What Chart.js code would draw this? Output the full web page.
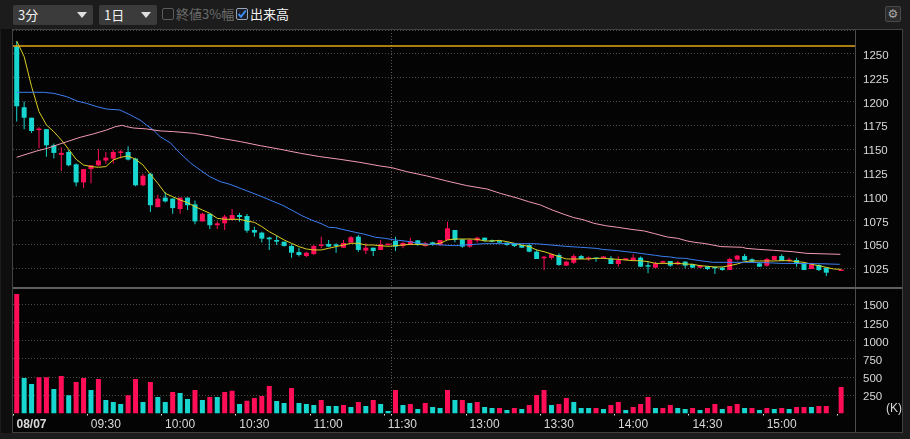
<!DOCTYPE html>
<html>
<head>
<meta charset="utf-8">
<script src="https://cdn.jsdelivr.net/npm/chart.js@4.4.1/dist/chart.umd.min.js"></script>
<style>
  html, body { margin: 0; padding: 0; }
  body { width: 910px; height: 439px; background: #1c1c1c; position: relative; overflow: hidden;
         font-family: "Noto Sans CJK JP", "Noto Sans", sans-serif; }
  .dd { position: absolute; top: 5px; height: 20px; background: #3b3b3b; border-radius: 2px;
        color: #f2f2f2; font-size: 13px; line-height: 20px; padding-left: 5px; box-sizing: border-box; }
  .dd i { position: absolute; right: 6px; top: 7px; border-left: 5px solid transparent;
          border-right: 5px solid transparent; border-top: 6px solid #e0e0e0; }
  .cb { position: absolute; top: 8px; width: 12px; height: 12px; box-sizing: border-box;
        border: 1px solid #5c5c5c; border-radius: 2px; }
  .lbl { position: absolute; top: 4px; font-size: 13px; line-height: 20px; }
  #strip { position: absolute; left: 1px; top: 29px; width: 11px; height: 404px; background: #0e0e0e; }
  #frame { position: absolute; left: 12px; top: 29px; width: 891px; height: 404px; box-sizing: border-box;
           border: 1px solid #414141; background: #040404; }
  canvas { position: absolute; left: 13px; }
  #pc { top: 30px; }
  #vc { top: 288px; }
  .ln { position: absolute; }
  #unit { position: absolute; left: 886px; top: 401px; color: #d8d8d8; font-size: 12px;
          font-family: "Liberation Sans", sans-serif; }
  #gear { position: absolute; left: 885px; top: 6px; width: 16px; height: 16px; box-sizing: border-box;
          background: #2b2b2b; border: 1px solid #4a4a4a; border-radius: 2px; color: #a8a8a8;
          font: 12px/14px "DejaVu Sans", sans-serif; text-align: center; }
</style>
</head>
<body>
<div class="dd" style="left:13px;width:80px;">3分<i></i></div>
<div class="dd" style="left:99px;width:58px;">1日<i></i></div>
<div class="cb" style="left:162px;"></div>
<div class="lbl" style="left:176px;color:#6c6c6c;">終値3%幅</div>
<div class="cb" style="left:236px;border-color:#9aa6b8;background:#1a1f2a;">
  <svg width="10" height="10" style="position:absolute;left:0;top:0"><polyline points="1.5,5 4,7.8 8.8,1.5" fill="none" stroke="#3d8cf5" stroke-width="2"/></svg>
</div>
<div class="lbl" style="left:250px;color:#f2f2f2;">出来高</div>
<div id="gear">⚙</div>

<div id="strip"></div>
<div id="frame"></div>
<canvas id="pc" width="889" height="258"></canvas>
<canvas id="vc" width="889" height="144"></canvas>
<div class="ln" style="left:855px;top:30px;width:1px;height:402px;background:#4c4c4c;"></div>
<div class="ln" style="left:13px;top:287px;width:889px;height:2px;background:#5e5e5e;"></div>
<div id="unit">(K)</div>

<script>
// 3-minute bars, 08/07: 09:00-11:30 (51 bars) and 12:30-15:30 (61 bars); 15:27 has no trade
const prevLine = 1258.4;

const opens = [
  1258, 1194, 1183, 1170, 1171, 1154, 1144, 1147, 1134, 1115,
  1129, 1133, 1138, 1140, 1146, 1147, 1140, 1112, 1124, 1089,
  1099, 1098, 1087, 1099, 1092, 1074, 1082, 1070, 1072, 1075.5,
  1080.7, 1079.7, 1065, 1062.2, 1057, 1054.5, 1052.7, 1048.2, 1041.8, 1037.6,
  1039.7, 1048.2, 1050.3, 1049.2, 1046.4, 1051.7, 1058, 1043.3, 1046.4, 1044,
  1049.2, 1053.4, 1048.2, 1049.2, 1054.1, 1048.2, 1052, 1049.2, 1054.5, 1065,
  1055.2, 1047.5, 1053.8, 1056.9, 1054.1, 1052.7, 1051.7, 1051, 1049.2, 1049.2,
  1042.2, 1035.2, 1035.6, 1038.7, 1027.5, 1030.6, 1037.6, 1034.5, 1035.2, 1035.5,
  1035.2, 1029.2, 1033.4, 1032.7, 1035.9, 1027.5, 1025.4, 1030.6, 1032.4, 1028.9,
  1031.7, 1028.9, 1025.4, 1026.8, 1025.7, 1025.4, 1022.9, 1033.9, 1037.6, 1034.2,
  1029.9, 1027.5, 1033.4, 1037.6, 1032.4, 1033.4, 1029.9, 1024, 1028.2, 1025.4,
  null, 1021.9
];
const highs = [
  1263, 1200, 1183, 1173, 1171, 1156, 1152, 1149, 1135, 1129,
  1133, 1150, 1147, 1149, 1149, 1153, 1141, 1124, 1125, 1102,
  1105, 1098, 1099, 1099, 1096, 1083, 1082, 1074, 1081, 1087,
  1082.8, 1081.8, 1068.5, 1063.2, 1058, 1059, 1052.7, 1050, 1046.4, 1042.2,
  1049.2, 1058, 1054.5, 1051, 1054.5, 1058.7, 1059.7, 1051, 1046.4, 1054.5,
  1050.6, 1058, 1052.7, 1056.9, 1054.1, 1052.7, 1052.7, 1054.5, 1073.7, 1065,
  1055.2, 1056.2, 1058, 1057, 1055, 1053.8, 1051.7, 1051, 1049.2, 1050,
  1044.6, 1037.6, 1039.7, 1040.4, 1032.5, 1039.4, 1038.7, 1037, 1035.2, 1037.6,
  1037.6, 1037, 1035.5, 1039.4, 1037, 1031.7, 1031.7, 1032.7, 1032.4, 1032.4,
  1032.4, 1029.5, 1028, 1027.5, 1026.4, 1026.4, 1035.9, 1038.7, 1039.7, 1035.2,
  1030.5, 1035.9, 1038, 1039.4, 1035.9, 1035.9, 1030.5, 1030.6, 1028.9, 1025.4,
  null, 1022.2
];
const lows = [
  1179, 1171, 1167, 1151, 1142, 1140, 1127, 1132, 1111, 1109,
  1114, 1132, 1135, 1135, 1140, 1138, 1111, 1111, 1084, 1089,
  1094, 1082, 1082, 1086, 1071, 1074, 1066, 1066, 1065, 1075,
  1073.7, 1062.2, 1058, 1051.7, 1044, 1049.2, 1047.5, 1035.9, 1037, 1036.6,
  1038.7, 1045.7, 1046.8, 1041.1, 1046.4, 1051.7, 1042.2, 1039.7, 1037.6, 1044,
  1048.5, 1043, 1045.7, 1049.2, 1048.5, 1047.5, 1048.5, 1048.5, 1054.5, 1052,
  1046.4, 1046.4, 1051.7, 1053, 1052, 1051.7, 1048.5, 1047, 1046, 1041.5,
  1034.5, 1022.9, 1034, 1027.5, 1027, 1029.2, 1034.5, 1032.7, 1031.7, 1035,
  1029.2, 1026.4, 1033, 1032.7, 1026.4, 1019.4, 1024.7, 1029.9, 1026.4, 1028.2,
  1024.7, 1025, 1025, 1023, 1018.7, 1022.2, 1022.9, 1033, 1033, 1031,
  1026, 1026.4, 1033, 1032.4, 1031, 1026.4, 1022.9, 1024, 1021.9, 1016.6,
  null, 1021.9
];
const closes = [
  1195, 1183, 1169, 1171, 1154, 1146, 1146, 1133, 1115, 1129,
  1133, 1138, 1141, 1147, 1147, 1139, 1112, 1122, 1091, 1098,
  1095, 1088, 1099, 1091, 1074, 1082, 1070, 1072, 1079, 1080.7,
  1078.6, 1064.3, 1062.2, 1055.9, 1055.2, 1052.7, 1048.2, 1041.1, 1038.7, 1041.1,
  1048.2, 1049.2, 1047.5, 1048.2, 1051.3, 1057.3, 1044, 1046.4, 1042.9, 1049.9,
  1049.9, 1047.5, 1051.3, 1053.4, 1049.2, 1051, 1049.2, 1054.5, 1066.7, 1054.5,
  1047.5, 1054.5, 1056.9, 1053.8, 1052.7, 1051.7, 1049.2, 1048.2, 1046.4, 1042.2,
  1034.5, 1036.9, 1039.4, 1028.2, 1031.7, 1037.6, 1034.5, 1035.9, 1034.5, 1036,
  1029.2, 1033.4, 1035.2, 1035.9, 1026.4, 1026.4, 1029.9, 1031.7, 1027.5, 1031,
  1027.5, 1025.4, 1027.5, 1024, 1024.7, 1022.9, 1034.5, 1038, 1033.1, 1031.7,
  1026.4, 1034.5, 1037.6, 1032.4, 1033.4, 1029.9, 1022.9, 1028.9, 1022.9, 1020.1,
  null, 1022.2
];

// volume in thousands of shares
const volumes = [
  1642, 488, 405, 497, 497, 337, 515, 250, 433, 488,
  323, 474, 185, 158, 130, 250, 474, 158, 433, 227,
  158, 295, 282, 199, 323, 185, 227, 227, 295, 313,
  130, 176, 213, 240, 378, 172, 144, 350, 144, 130,
  117, 185, 103, 103, 117, 89, 158, 103, 185, 130,
  34, 323, 117, 130, 61, 144, 89, 75, 323, 185,
  185, 144, 158, 89, 75, 75, 48, 75, 61, 117,
  254, 323, 117, 130, 213, 158, 75, 75, 75, 61,
  117, 158, 48, 89, 130, 227, 75, 75, 117, 75,
  61, 75, 48, 75, 130, 62, 103, 130, 75, 75,
  48, 75, 62, 75, 62, 89, 89, 89, 103, 103,
  null, 364
];
// 1 = volume bar shown as rising, 0 = falling
const volRise = [
  1, 0, 0, 1, 1, 0, 1, 0, 1, 1,
  0, 1, 0, 0, 0, 1, 1, 0, 1, 0,
  0, 1, 0, 0, 1, 0, 1, 0, 1, 1,
  0, 1, 1, 1, 1, 0, 0, 1, 0, 0,
  0, 1, 0, 0, 1, 0, 1, 0, 1, 0,
  0, 1, 0, 1, 0, 1, 0, 0, 1, 0,
  1, 0, 1, 0, 0, 1, 0, 1, 0, 1,
  1, 1, 0, 1, 1, 0, 0, 0, 1, 0,
  1, 1, 0, 1, 1, 1, 0, 1, 1, 0,
  0, 1, 0, 1, 1, 0, 1, 1, 0, 1,
  0, 1, 0, 1, 0, 1, 1, 0, 1, 1,
  0, 1
];

// short moving average, one value per bar
const maShort = [
  1263.7, 1247.2, 1215.7, 1189.4, 1175.4, 1168.3, 1159.6, 1149.8, 1139.3, 1133.3,
  1131.6, 1130.9, 1131.6, 1138.6, 1141.4, 1142.8, 1139.3, 1133.3, 1123.5, 1114,
  1103.5, 1100, 1096.5, 1093.7, 1089.5, 1086, 1082.5, 1077.2, 1076.2, 1076.2,
  1076.2, 1074.4, 1073, 1068.5, 1063.2, 1059, 1054.5, 1051, 1047.5, 1045,
  1044, 1044, 1045.7, 1047.5, 1049.2, 1051, 1051, 1049.2, 1049.2, 1048.5,
  1047.8, 1048.5, 1049.2, 1049.9, 1049.9, 1049.2, 1049.9, 1051, 1054.5, 1055.5,
  1055.5, 1055.5, 1055.2, 1053.4, 1053.4, 1054.1, 1052.7, 1051, 1049.2, 1047.5,
  1044, 1042.2, 1039.7, 1037, 1034.5, 1034.5, 1034.5, 1034.5, 1035.2, 1035.2,
  1034.5, 1034.1, 1033.4, 1032.7, 1032.7, 1031.7, 1029.9, 1029.9, 1029.9, 1029.9,
  1029.2, 1028.9, 1027.5, 1026.8, 1026.1, 1026.1, 1027.5, 1029.2, 1031.7, 1032.4,
  1032.4, 1032.4, 1032.4, 1032.7, 1032.7, 1031.7, 1031, 1028.9, 1027.5, 1025.7,
  1024, 1023.6
];

// medium moving average, read at points along the line (bar position, price)
const maMidX = [0, 3.6, 5, 6.75, 8.1, 9.4, 10.8, 12.1, 13.9, 15.3, 16.6, 17.5, 18.4, 19.3, 20.7,
  22, 23.4, 24.7, 26, 27.4, 28.7, 30.1, 32.8, 34.4, 35.7, 37, 38.4, 39.7, 41.1, 42, 42.9, 44.2,
  45.6, 46.9, 48.3, 49.6, 50.9, 52.3, 53.6, 55, 57.2, 59, 63, 69.8, 71.9, 73.9, 75.9, 78, 78.9,
  80.9, 82, 82.9, 84, 84.9, 86, 86.9, 88, 88.9, 90, 90.8, 91.7, 92.7, 93.7, 98, 100.9, 102.9,
  107.8, 110.8];
const maMidY = [1209.7, 1209.7, 1208.6, 1205.1, 1200.6, 1198.1, 1194.6, 1192.1, 1191.1, 1185.9,
  1180.6, 1175.1, 1170.1, 1163.1, 1156.5, 1145.6, 1135.5, 1128, 1121, 1115.8, 1113, 1108.8,
  1100.7, 1095.5, 1091.3, 1086, 1080, 1075.5, 1071.3, 1067.8, 1067.4, 1065, 1062.5, 1060.4,
  1057.3, 1056.2, 1054.5, 1053.4, 1051.7, 1050.3, 1049.2, 1048.5, 1050.6, 1050.6, 1049.2,
  1047.8, 1046.8, 1045.7, 1044.6, 1043.3, 1042.2, 1041.5, 1040.4, 1039.4, 1038.3, 1037.3,
  1036.6, 1035.5, 1035.2, 1034.1, 1033.1, 1032, 1031, 1031, 1030.6, 1029.9, 1029.6, 1028.9];

// long moving average, read at points along the line
const maLongX = [0, 1.4, 2.7, 4.1, 5.4, 6.75, 8.55, 10.3, 12.1, 13.3, 14.2, 14.8, 15.7, 17.5,
  19.3, 21.1, 23.8, 26, 27.4, 30.1, 32.8, 35.5, 38.2, 40.8, 43.5, 46.2, 48.9, 50.5, 52.5, 55.2,
  57.9, 60.6, 63.3, 65.1, 67.5, 68.9, 70.5, 72.1, 73.7, 75, 76.4, 77.7, 79.3, 80.9, 82.7, 84.5,
  85.9, 87.6, 89, 90.3, 91.3, 92.4, 93.7, 94.8, 97.7, 98.2, 99.9, 101.9, 104.4, 106.4, 110.9];
const maLongY = [1141.4, 1144.9, 1148, 1150.8, 1154.3, 1157.8, 1162.4, 1165.9, 1170.1, 1173.6,
  1175, 1173.6, 1172.2, 1171.2, 1169.1, 1168.4, 1166.6, 1163.8, 1161.5, 1157.9, 1153.6, 1149.8,
  1145.6, 1142.1, 1139.3, 1136.1, 1132.3, 1130.5, 1126.3, 1121.8, 1116.5, 1111.6, 1108.1,
  1103.5, 1098.3, 1094.8, 1091.3, 1086, 1081.4, 1078, 1075.5, 1072, 1069.5, 1067.8, 1065.7,
  1063.9, 1061.1, 1057.6, 1056.2, 1053.4, 1052, 1051, 1049.2, 1047.5, 1046.8, 1045.7, 1044.6,
  1043.6, 1042.2, 1040.4, 1039.4];

const priceTicks = [1025, 1050, 1075, 1100, 1125, 1150, 1175, 1200, 1225, 1250, 1275];
const volTicks = [250, 500, 750, 1000, 1250, 1500];
const timeTickPos = [-0.5, 9.5, 19.5, 29.5, 39.5, 49.5, 50.5, 60.5, 70.5, 80.5, 90.5, 100.5, 110.5];
const timeTickText = ['08/07', '09:30', '10:00', '10:30', '11:00', '11:30', '', '13:00', '13:30', '14:00', '14:30', '15:00', ''];

const UP = '#ff0d57';
const DOWN = '#17d6cf';
const GRID = '#4a4a4a';
const TXT = '#d9d9d9';
const tickFont = '"Liberation Sans", sans-serif';
const sessionBreak = 50.5;

let wickData = [], bodyData = [], candleColors = [];
opens.forEach((o, i) => {
    if (o === null) return;
    wickData.push({ x: i, y: [lows[i], highs[i]] });
    bodyData.push({ x: i, y: [o, closes[i]] });
    candleColors.push(closes[i] >= o ? UP : DOWN);
});

let volData = [], volColors = [];
volumes.forEach((v, i) => {
    if (v === null) return;
    volData.push({ x: i, y: v });
    volColors.push(volRise[i] ? UP : DOWN);
});

function linePoints(xs, ys) {
    return xs.map((x, i) => ({ x: x, y: ys[i] }));
}

function lineSet(data, color, width) {
    return {
        type: 'line', data: data, borderColor: color, borderWidth: width,
        pointRadius: 0, tension: 0, order: 0
    };
}

// keep the plot area flush with the canvas edges
function noPad(s) {
    s.paddingTop = 0;
    s.paddingBottom = 0;
    s.paddingLeft = 0;
    s.paddingRight = 0;
}

const xCommon = {
    type: 'linear', min: -0.5, max: 113, offset: false
};

new Chart(document.getElementById('pc'), {
    type: 'bar',
    data: {
        datasets: [
            lineSet([{ x: -0.5, y: prevLine }, { x: 113, y: prevLine }], '#e6a516', 1.3),
            lineSet(linePoints(maLongX, maLongY), '#f29ab1', 1),
            lineSet(linePoints(maMidX, maMidY), '#3b7ff2', 1),
            lineSet(maShort.map((v, i) => ({ x: i, y: v })), '#dccf22', 1),
            {
                data: wickData, backgroundColor: candleColors, barThickness: 1,
                grouped: false, inflateAmount: 0, order: 2
            },
            {
                data: bodyData, backgroundColor: candleColors, barThickness: 5,
                grouped: false, inflateAmount: 0, minBarLength: 1.5, order: 1
            }
        ]
    },
    options: {
        responsive: false,
        animation: false,
        events: [],
        layout: { padding: 0, autoPadding: false },
        plugins: { legend: { display: false }, tooltip: { enabled: false } },
        scales: {
            x: Object.assign({}, xCommon, {
                afterBuildTicks: s => { s.ticks = [{ value: sessionBreak }]; },
                afterFit: s => { s.height = 0; noPad(s); },
                ticks: { display: false },
                grid: { color: '#5a5a5a', drawTicks: false, offset: false },
                border: { display: false, dash: [1, 2] }
            }),
            y: {
                position: 'right', min: 1004, max: 1275.2,
                afterBuildTicks: s => { s.ticks = priceTicks.map(v => ({ value: v })); },
                afterFit: s => { s.width = 46; noPad(s); },
                ticks: {
                    color: TXT, padding: 7, labelOffset: 2, font: { family: tickFont, size: 11.5 },
                    callback: v => (v <= 1250 ? String(v) : '')
                },
                grid: { color: GRID, drawTicks: false },
                border: { display: false, dash: [1, 2] }
            }
        }
    }
});

new Chart(document.getElementById('vc'), {
    type: 'bar',
    data: {
        datasets: [{
            data: volData, backgroundColor: volColors, barThickness: 5,
            grouped: false, inflateAmount: 0
        }]
    },
    options: {
        responsive: false,
        animation: false,
        events: [],
        layout: { padding: 0, autoPadding: false },
        plugins: { legend: { display: false }, tooltip: { enabled: false } },
        scales: {
            x: Object.assign({}, xCommon, {
                afterBuildTicks: s => { s.ticks = timeTickPos.map(v => ({ value: v })); },
                afterFit: s => { s.height = 18.5; noPad(s); },
                ticks: {
                    color: TXT, align: 'start', labelOffset: 3.5, padding: 2,
                    maxRotation: 0, autoSkip: false,
                    font: ctx => ({ family: tickFont, size: 12, weight: ctx.index === 0 ? 'bold' : 'normal' }),
                    callback: (v, i) => timeTickText[i]
                },
                grid: {
                    color: ctx => (ctx.tick && ctx.tick.value === sessionBreak ? '#5a5a5a' : 'rgba(0,0,0,0)'),
                    tickColor: '#e0e0e0', tickLength: 2, offset: false
                },
                border: { display: false, dash: [1, 2] }
            }),
            y: {
                position: 'right', min: 0, max: 1724,
                afterBuildTicks: s => { s.ticks = volTicks.map(v => ({ value: v })); },
                afterFit: s => { s.width = 46; noPad(s); },
                ticks: {
                    color: TXT, padding: 7, labelOffset: 2, font: { family: tickFont, size: 11.5 },
                    callback: v => String(v)
                },
                grid: { color: GRID, drawTicks: false },
                border: { display: false, dash: [1, 2] }
            }
        }
    }
});
</script>
</body>
</html>
